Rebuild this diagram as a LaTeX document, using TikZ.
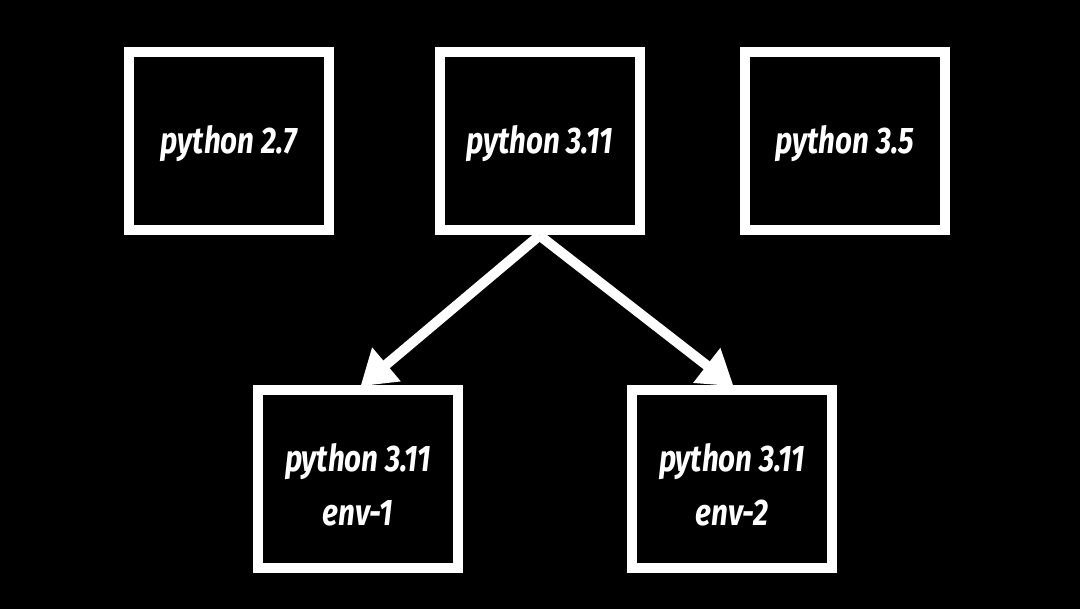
\documentclass[tikz,border=0pt]{standalone}
\usepackage{fontspec}
\newfontfamily\lblfont[FakeStretch=0.8]{Fira Sans}
\usetikzlibrary{arrows.meta}
\begin{document}
\begin{tikzpicture}[x=1pt,y=-1pt,
  box/.style={draw=white,line width=10pt,minimum width=200pt,minimum height=178pt,inner sep=0pt},
  txt/.style={text=white,align=center,inner sep=0pt,font=\lblfont\fontsize{37}{54}\selectfont\bfseries\itshape},
  link/.style={draw=white,line width=10pt,-{Triangle[length=34pt,width=42pt]},shorten >=-2pt}]
\fill[black] (0,0) rectangle (1080,609);
\node[box] (a) at (229,141.5) {};
\node[box] (b) at (539.5,141.5) {};
\node[box] (c) at (845,141.5) {};
\node[box] (d) at (358,479) {};
\node[box] (e) at (732,479) {};
\node[txt] (at) at ([yshift=-2pt]a.center) {python 2.7};
\node[txt] (bt) at ([yshift=-2pt]b.center) {python 3.11};
\node[txt] (ct) at ([yshift=-2pt]c.center) {python 3.5};
\node[txt] (dt) at ([yshift=-6pt]d.center) {python 3.11\\env-1};
\node[txt] (et) at ([yshift=-6pt]e.center) {python 3.11\\env-2};
\draw[link] (b.south) -- ([xshift=4pt]d.north);
\draw[link] (b.south) -- (e.north);
\end{tikzpicture}
\end{document}
